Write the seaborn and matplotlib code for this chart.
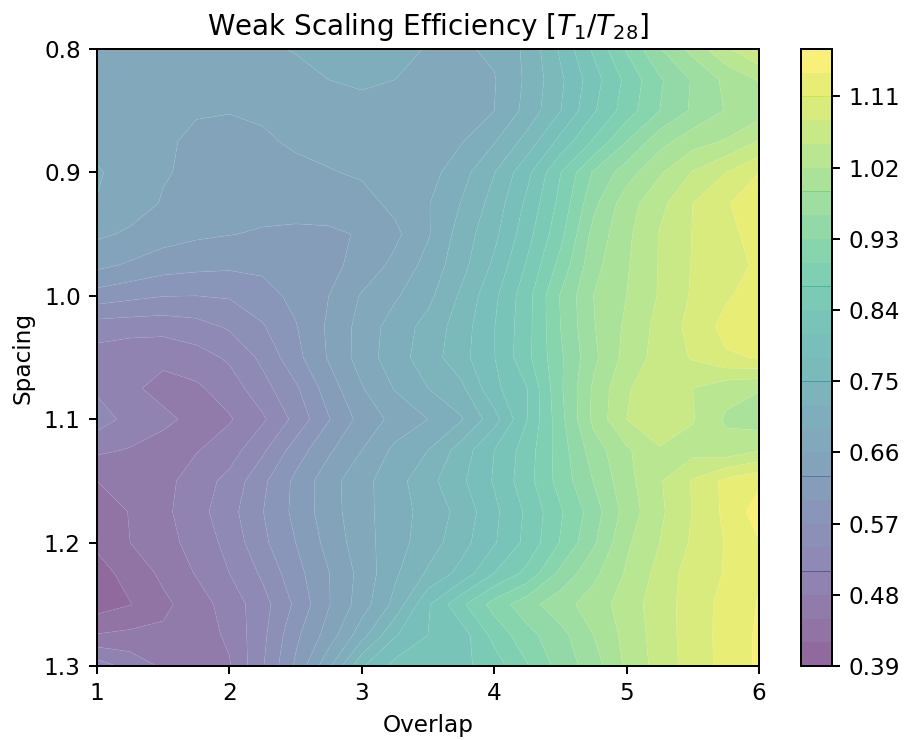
import seaborn as sns
import matplotlib
matplotlib.use("Agg")
import matplotlib.pyplot as plt

overlap = [1, 1.25, 1.5, 1.75, 2, 2.25, 2.5, 2.75, 3, 3.25, 3.5, 3.75, 4, 4.25, 4.5, 4.75, 5, 5.25, 5.5, 5.75, 6]
spacing = [0.8, 0.825, 0.85, 0.875, 0.9, 0.925, 0.95, 0.975, 1.0, 1.025, 1.05,
           1.075, 1.1, 1.125, 1.15, 1.175, 1.2, 1.225, 1.25, 1.275, 1.3]

### values, one list per spacing
s0800 = [.675, .676, .677, .679, .682, .685, .692, .700, .705, .700, .688, .686, .695, .727, .785, .845, .903, .958, 1.000, 1.045, 1.080]
s0825 = [.678, .675, .672, .672, .673, .676, .680, .690, .696, .690, .682, .683, .688, .726, .774, .827, .878, .926, .963, .997, 1.022]
s0850 = [.672, .669, .665, .662, .661, .664, .668, .674, .678, .682, .683, .685, .690, .730, .779, .836, .885, .930, .965, .992, 1.006]
s0875 = [.681, .672, .664, .655, .652, .656, .664, .670, .675, .678, .678, .688, .718, .762, .820, .874, .930, .979, 1.008, 1.023, 1.053]
s0900 = [.693, .678, .662, .655, .647, .649, .653, .658, .664, .672, .678, .708, .749, .802, .869, .933, .976, 1.016, 1.052, 1.080, 1.110]
s0925 = [.689, .672, .658, .644, .639, .640, .638, .641, .649, .668, .688, .721, .762, .817, .879, .952, 1.007, 1.041, 1.080, 1.108, 1.122]
s0950 = [.665, .656, .643, .635, .631, .627, .626, .626, .632, .653, .687, .733, .772, .829, .891, .970, 1.013, 1.052, 1.081, 1.103, 1.120]
s0975 = [.638, .626, .614, .609, .606, .607, .614, .622, .640, .668, .700, .739, .786, .844, .910, .980, 1.017, 1.052, 1.082, 1.098, 1.115]
s1000 = [.587, .578, .571, .570, .573, .588, .608, .630, .663, .686, .712, .755, .803, .859, .932, .990, 1.020, 1.053, 1.084, 1.106, 1.125]
s1025 = [.525, .523, .522, .529, .544, .567, .598, .635, .671, .704, .730, .765, .809, .860, .930, .988, 1.026, 1.060, 1.090, 1.120, 1.130]
s1050 = [.497, .488, .485, .497, .515, .547, .590, .633, .673, .707, .735, .769, .809, .862, .925, .983, 1.031, 1.062, 1.083, 1.106, 1.112]
s1075 = [.505, .484, .473, .475, .494, .529, .565, .615, .658, .692, .720, .743, .802, .840, .925, .995, 1.047, 1.068, 1.050, 1.030, 1.022]
s1100 = [.525, .500, .485, .474, .477, .505, .549, .598, .641, .669, .690, .717, .768, .840, .920, .998, 1.050, 1.065, 1.052, 1.016, 1.005]
s1125 = [.486, .478, .471, .478, .496, .534, .584, .625, .660, .697, .720, .763, .810, .855, .915, .975, 1.015, 1.048, 1.040, 1.030, 1.047]
s1150 = [.450, .462, .470, .495, .519, .563, .607, .648, .680, .708, .740, .774, .813, .859, .912, .961, 1.010, 1.047, 1.083, 1.118, 1.135]
s1175 = [.438, .451, .473, .498, .529, .569, .608, .647, .679, .708, .730, .760, .803, .846, .896, .945, 1.003, 1.044, 1.081, 1.117, 1.155]
s1200 = [.425, .450, .470, .490, .520, .563, .600, .640, .677, .708, .735, .768, .807, .849, .902, .955, 1.015, 1.050, 1.085, 1.112, 1.138]
s1225 = [.410, .429, .457, .482, .510, .545, .589, .629, .670, .715, .755, .790, .841, .879, .938, .982, 1.024, 1.060, 1.095, 1.112, 1.138]
s1250 = [.405, .419, .443, .466, .493, .528, .576, .628, .675, .729, .806, .863, .912, .949, .978, 1.004, 1.034, 1.066, 1.094, 1.120, 1.142]
s1275 = [.452, .457, .456, .463, .486, .532, .593, .643, .708, .777, .810, .825, .880, .920, .950, .990, 1.030, 1.064, 1.095, 1.120, 1.145]
s1300 = [.525, .500, .475, .472, .477, .537, .605, .683, .776, .820, .825, .832, .855, .898, .942, .975, 1.026, 1.062, 1.094, 1.120, 1.145]

levels = [0.39 + 0.03 * i for i in range(27)]
cbar_ticks = [0.39, 0.48, 0.57, 0.66, 0.75, 0.84, 0.93, 1.02, 1.11]
seam_levels = [0.51, 0.63, 0.75, 0.87, 0.99, 1.11]

sns.set_style("ticks", {"axes.edgecolor": "black", "text.color": "black",
                        "xtick.color": "black", "ytick.color": "black",
                        "axes.labelcolor": "black",
                        "xtick.direction": "out", "ytick.direction": "out"})
plt.rcParams["font.family"] = ["DejaVu Sans"]
plt.rcParams["axes.linewidth"] = 0.95
plt.rcParams["xtick.major.width"] = 0.95
plt.rcParams["ytick.major.width"] = 0.95
plt.rcParams["xtick.major.size"] = 3.9
plt.rcParams["ytick.major.size"] = 3.9

W, H = 904, 740
fig = plt.figure(figsize=(W / 150, H / 150), dpi=150)
ax = fig.add_axes([97 / W, 1 - 666 / H, 662 / W, 617 / H])
cax = fig.add_axes([801 / W, 1 - 666 / H, 31 / W, 617 / H])

grid = [s0800, s0825, s0850, s0875, s0900, s0925, s0950, s0975, s1000, s1025, s1050,
        s1075, s1100, s1125, s1150, s1175, s1200, s1225, s1250, s1275, s1300]
cmap = sns.color_palette("viridis", as_cmap=True)
cs = ax.contourf(overlap, spacing, grid, levels=levels, cmap=cmap, alpha=0.6,
                 antialiased=True)
### faint light seams between the bands
ax.contour(overlap, spacing, grid, levels=levels, colors="white", linewidths=0.25, alpha=0.15)
ax.set_ylim(1.3, 0.8)
ax.set_xlim(1, 6)
ax.set_xticks([1, 2, 3, 4, 5, 6])
ax.set_yticks([0.8, 0.9, 1.0, 1.1, 1.2, 1.3])
ax.tick_params(labelsize=11.1, pad=3.9)
ax.set_xlabel("Overlap", fontsize=11.1, labelpad=4.4)
ax.set_ylabel("Spacing", fontsize=11.1, labelpad=4.4)
ax.set_title("Weak Scaling Efficiency [$T_1/T_{28}$]", fontsize=13.3, pad=6.6)

cbar = fig.colorbar(cs, cax=cax, ticks=cbar_ticks)
cbar.ax.set_yticklabels(["%.2f" % t for t in cbar_ticks])
cbar.ax.tick_params(labelsize=11.1, pad=3.9)
for v in seam_levels:
    cbar.ax.axhline(v, color=cmap((v - 0.39) / 0.78), lw=0.4, alpha=0.7)

fig.savefig("out.png", dpi=150)
